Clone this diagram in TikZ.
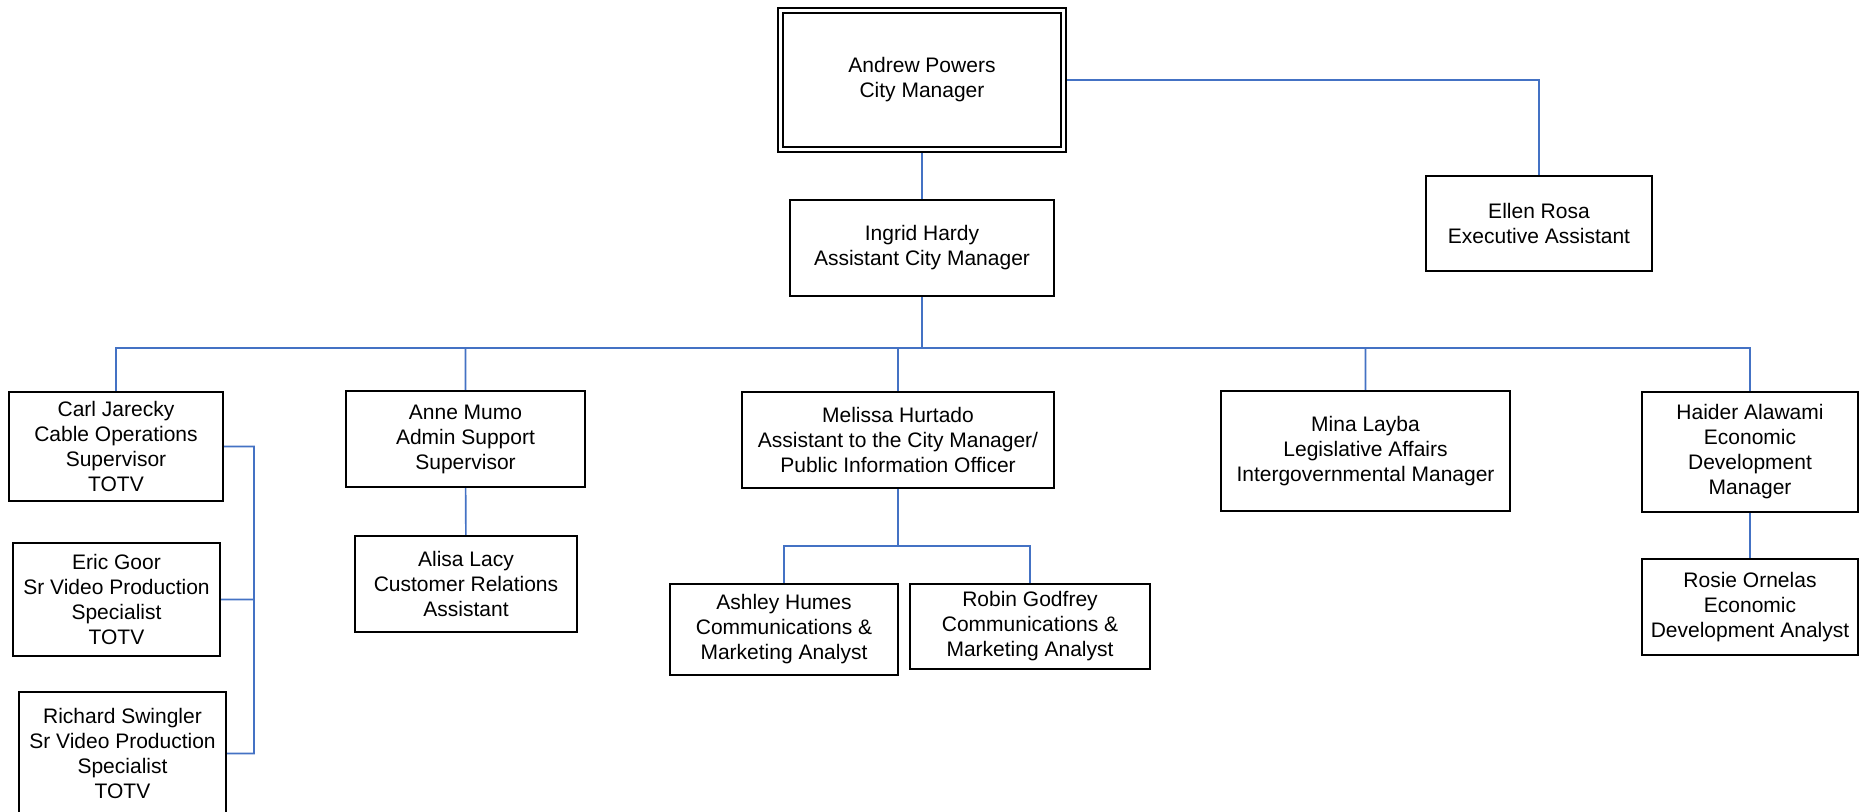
\documentclass[tikz,border=0pt]{standalone}
\usepackage{fontspec}
\setmainfont{Liberation Sans}
\usetikzlibrary{positioning,backgrounds}
\definecolor{orgblue}{RGB}{68,114,196}

\begin{document}
\begin{tikzpicture}[x=0.5pt,y=-0.5pt,
    person/.style={draw,line width=1pt,align=center,inner sep=0pt,
      font=\fontsize{10.5}{12.5}\selectfont},
    chief/.style={person,double,line width=1.1pt,double distance=1.2pt},
    link/.style={draw=orgblue,line width=0.8pt}]
  \useasboundingbox (0,0) rectangle (1873,812);
  % top of the chart
  \node[chief,minimum width=141.5pt,minimum height=69.5pt] (powers) at (922,80) {Andrew Powers\\City Manager};
  \node[person,minimum width=132pt,minimum height=48pt] (hardy) at (922,248) {Ingrid Hardy\\Assistant City Manager};
  \node[person,minimum width=113pt,minimum height=47.5pt] (rosa) at (1539,223.5) {Ellen Rosa\\Executive Assistant};
  % reports to the assistant city manager
  \node[person,minimum width=107pt,minimum height=54.5pt] (jarecky) at (116,446.5) {Carl Jarecky\\Cable Operations\\Supervisor\\TOTV};
  \node[person,minimum width=103.5pt,minimum height=56.5pt] (goor) at (116.5,599.5) {Eric Goor\\Sr Video Production\\Specialist\\TOTV};
  \node[person,minimum width=103.5pt,minimum height=61.5pt] (swingler) at (122.5,753.5) {Richard Swingler\\Sr Video Production\\Specialist\\TOTV};
  \node[person,minimum width=119.5pt,minimum height=48pt] (mumo) at (465.5,439) {Anne Mumo\\Admin Support\\Supervisor};
  \node[person,minimum width=111pt,minimum height=48pt] (lacy) at (466,584) {Alisa Lacy\\Customer Relations\\Assistant};
  \node[person,minimum width=156pt,minimum height=48pt] (hurtado) at (898,440) {Melissa Hurtado\\Assistant to the City Manager/\\Public Information Officer};
  \node[person,minimum width=114pt,minimum height=45.5pt] (humes) at (784,629.5) {Ashley Humes\\Communications \&\\Marketing Analyst};
  \node[person,minimum width=120pt,minimum height=42.5pt] (godfrey) at (1030,626.5) {Robin Godfrey\\Communications \&\\Marketing Analyst};
  \node[person,minimum width=144.5pt,minimum height=60pt] (layba) at (1365.5,451) {Mina Layba\\Legislative Affairs\\Intergovernmental Manager};
  \node[person,minimum width=108pt,minimum height=60pt] (alawami) at (1750,452) {Haider Alawami\\Economic\\Development\\Manager};
  \node[person,minimum width=108pt,minimum height=48pt] (ornelas) at (1750,607) {Rosie Ornelas\\Economic\\Development Analyst};

  \coordinate (bus) at (922,348);
  \coordinate (rail) at (254,600);
  \begin{scope}[on background layer]
    \path[link]
      (powers) -- (hardy)
      (powers.east) -| (rosa.north)
      (hardy.south) -- (bus)
      (bus) -| (jarecky.north)
      (bus) -| (mumo.north)
      (bus) -| (hurtado.north)
      (bus) -| (layba.north)
      (bus) -| (alawami.north)
      (mumo) -- (lacy)
      (alawami) -- (ornelas)
      (hurtado.south) -- ++(0,57) coordinate (sub)
      (sub) -| (humes.north)
      (sub) -| (godfrey.north)
      (jarecky.east) -| (rail |- swingler.east) -- (swingler.east)
      (goor.east) -- (goor.east -| rail);
  \end{scope}
\end{tikzpicture}
\end{document}
